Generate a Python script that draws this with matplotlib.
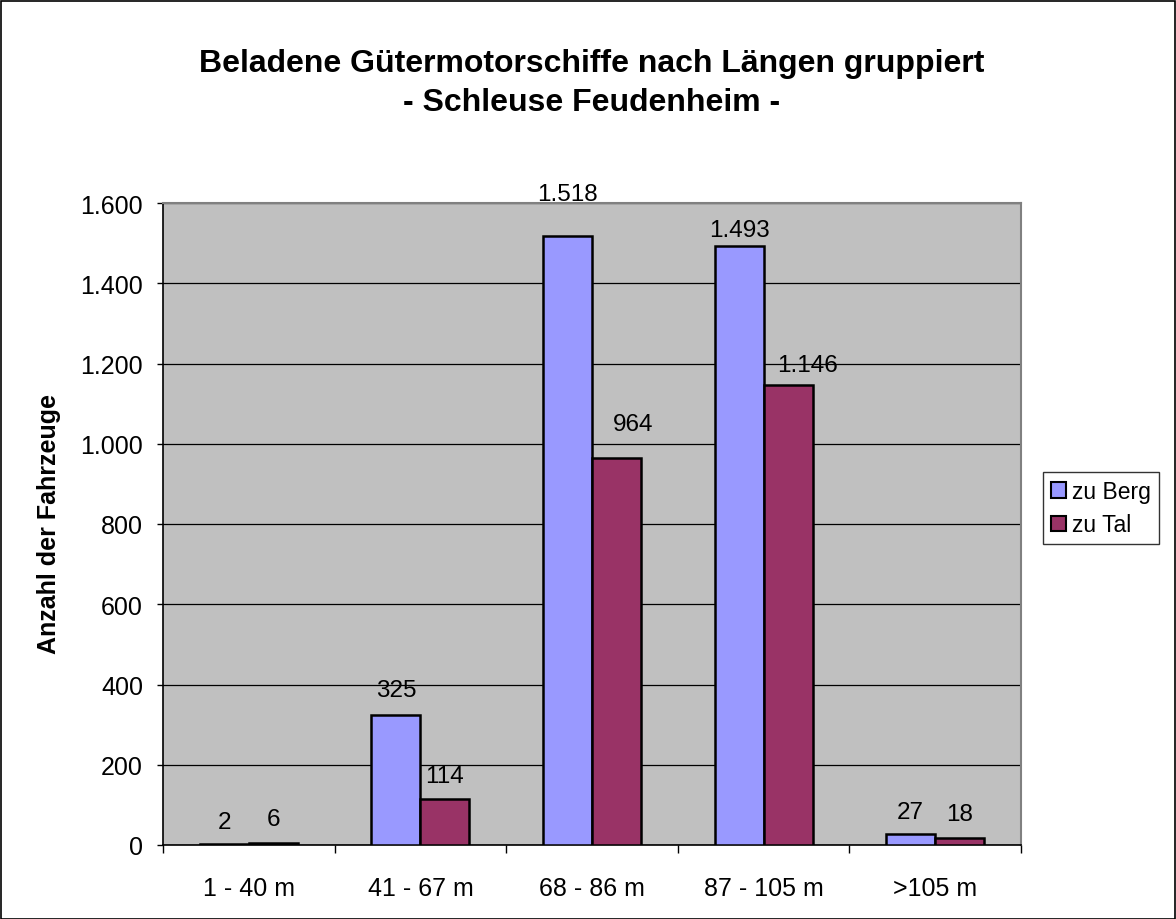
import matplotlib
matplotlib.use("Agg")
import matplotlib.pyplot as plt
import numpy as np
from matplotlib.patches import Rectangle
from matplotlib.ticker import FuncFormatter, FixedLocator

plt.rcParams['font.family'] = ['Liberation Sans', 'DejaVu Sans']

categories = ["1 - 40 m", "41 - 67 m", "68 - 86 m", "87 - 105 m", ">105 m"]
zu_berg = [2, 325, 1518, 1493, 27]
zu_tal = [6, 114, 964, 1146, 18]
series_names = ["zu Berg", "zu Tal"]
y_ticks = [0, 200, 400, 600, 800, 1000, 1200, 1400, 1600]

# per-label nudges (pixels) of the value labels: (dx, dy above bar top)
berg_label_nudge = [(0, 25), (0, 27), (0, 44), (0, 18), (0, 25)]
tal_label_nudge = [(0, 26), (0, 26), (17, 37), (19, 23), (0, 26)]

blue = "#9999FF"
maroon = "#993366"
plot_bg = "#C0C0C0"

W, H = 1176, 920
PX = 72 / 100  # points per pixel at dpi 100


def de_format(v):
    return f"{int(round(v)):,}".replace(",", ".")


fig = plt.figure(figsize=(W / 100, H / 100), dpi=100)
ax = fig.add_axes([163 / W, 1 - 846 / H, (1021 - 163) / W, (846 - 204) / H])
ax.set_facecolor(plot_bg)

x = np.arange(len(categories))
w = 0.286
b1 = ax.bar(x - w / 2, zu_berg, w, color=blue, edgecolor="black", linewidth=1.8,
            label=series_names[0], zorder=3)
b2 = ax.bar(x + w / 2, zu_tal, w, color=maroon, edgecolor="black", linewidth=1.8,
            label=series_names[1], zorder=3)

for bars, vals, nudges in ((b1, zu_berg, berg_label_nudge), (b2, zu_tal, tal_label_nudge)):
    for rect, v, (dx, dy) in zip(bars, vals, nudges):
        ax.annotate(de_format(v), (rect.get_x() + rect.get_width() / 2, v),
                    xytext=(dx * PX, dy * PX), textcoords="offset points",
                    ha="center", va="center_baseline", fontsize=17.5,
                    clip_on=False, zorder=4, annotation_clip=False)

ax.set_xlim(-0.5, len(categories) - 0.5)
ax.set_ylim(0, 1600)
ax.set_yticks(y_ticks)
ax.yaxis.set_major_formatter(FuncFormatter(lambda v, p: de_format(v)))
ax.yaxis.grid(True, color="black", linewidth=0.9, zorder=1)
ax.tick_params(axis="y", direction="out", length=6 * PX, width=1, labelsize=18, pad=10)

ax.set_xticks(x)
ax.set_xticklabels(categories)
ax.tick_params(axis="x", which="major", length=0, labelsize=18, pad=22)
ax.xaxis.set_minor_locator(FixedLocator(np.arange(-0.5, len(categories), 1.0)))
ax.tick_params(axis="x", which="minor", direction="out", length=8 * PX, width=1)

for side in ("top", "right"):
    ax.spines[side].set_color("#808080")
    ax.spines[side].set_linewidth(1.5)
for side in ("left", "bottom"):
    ax.spines[side].set_color("black")
    ax.spines[side].set_linewidth(1.2)

fig.text(49 / W, 1 - 524 / H, "Anzahl der Fahrzeuge", rotation=90,
         ha="center", va="center", fontsize=18, fontweight="bold")

fig.text(592 / W, 1 - 72 / H, "Beladene Gütermotorschiffe nach Längen gruppiert",
         ha="center", va="baseline", fontsize=23, fontweight="bold")
fig.text(592 / W, 1 - 111 / H, "- Schleuse Feudenheim -",
         ha="center", va="baseline", fontsize=23, fontweight="bold")

leg = fig.legend(handles=[b1, b2], labels=series_names, loc="upper left",
                 bbox_to_anchor=(1043 / W, 1 - 473 / H), fontsize=16.5,
                 frameon=True, fancybox=False, shadow=False, borderaxespad=0,
                 handlelength=0.65, handleheight=0.65, handletextpad=0.28,
                 borderpad=0.35, labelspacing=0.45)
leg.get_frame().set_edgecolor("black")
leg.get_frame().set_linewidth(1.0)
for h in leg.legend_handles:
    h.set_linewidth(1.5)

fig.patches.append(Rectangle((0.5 / W, 0.5 / H), 1 - 2 / W, 1 - 2 / H,
                             transform=fig.transFigure, fill=False,
                             edgecolor="black", linewidth=1.2))

fig.savefig("out.png", dpi=100)
